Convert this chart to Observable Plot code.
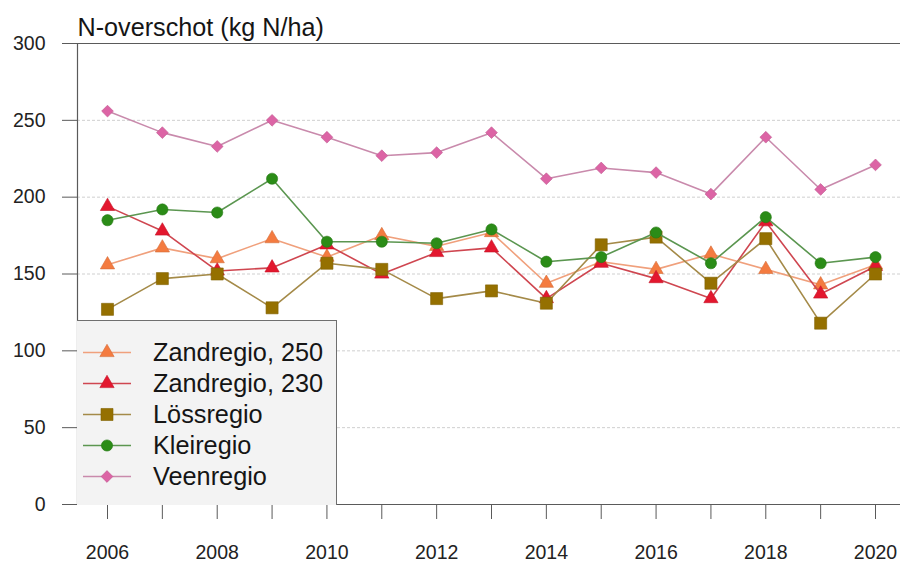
<!DOCTYPE html>
<html>
<head>
<meta charset="utf-8">
<script src="https://cdn.jsdelivr.net/npm/d3@7"></script>
<script src="https://cdn.jsdelivr.net/npm/@observablehq/plot@0.6"></script>
<style>
  html, body { margin: 0; padding: 0; background: #fff; }
  #wrap { position: relative; width: 900px; height: 563px; overflow: hidden; font-family: "Liberation Sans", Arial, Helvetica, sans-serif; }
  #legend { position: absolute; left: 77px; top: 320px; width: 259px; height: 168px; background: #f3f3f3; border-top: 1px solid #6f6f6f; border-right: 1px solid #6f6f6f; box-sizing: content-box; padding-top: 16px; }
  .row { position: relative; height: 31px; }
  .row svg { position: absolute; left: 0; top: 0; }
  .row span { position: absolute; left: 76px; top: 0; line-height: 31px; font-size: 25.3px; color: #151515; white-space: nowrap; }
</style>
</head>
<body>
<div id="wrap"><div id="legend"></div></div>
<script>
// ---- data ----
const years = [2006, 2007, 2008, 2009, 2010, 2011, 2012, 2013, 2014, 2015, 2016, 2017, 2018, 2019, 2020];
const seriesNames = ["Zandregio, 250", "Zandregio, 230", "Lössregio", "Kleiregio", "Veenregio"];
const zandregio250 = [156, 167, 160, 173, 161, 175, 168, 177, 144, 158, 153, 163, 153, 143, 156];
const zandregio230 = [194, 178, 152, 154, 169, 150, 164, 167, 134, 157, 147, 134, 184, 137, 155];
const lossregio    = [127, 147, 150, 128, 157, 153, 134, 139, 131, 169, 174, 144, 173, 118, 150];
const kleiregio    = [185, 192, 190, 212, 171, 171, 170, 179, 158, 161, 177, 157, 187, 157, 161];
const veenregio    = [256, 242, 233, 250, 239, 227, 229, 242, 212, 219, 216, 202, 239, 205, 221];
const yTicks = [0, 50, 100, 150, 200, 250, 300];
const title = "N-overschot (kg N/ha)";

// ---- styles (kept separate from data) ----
const valuesByName = {
  "Zandregio, 250": zandregio250,
  "Zandregio, 230": zandregio230,
  "Lössregio": lossregio,
  "Kleiregio": kleiregio,
  "Veenregio": veenregio
};
const style = {
  "Zandregio, 250": {fill: "#f47b40", line: "#f0a07c", symbol: "triangle", r: 5.3, d3sym: d3.symbolTriangle},
  "Zandregio, 230": {fill: "#e3172e", line: "#cf4650", symbol: "triangle", r: 5.3, d3sym: d3.symbolTriangle},
  "Lössregio":      {fill: "#957000", line: "#a48a48", symbol: "square",   r: 6.8, d3sym: d3.symbolSquare},
  "Kleiregio":      {fill: "#2b8c17", line: "#5b9650", symbol: "circle",   r: 5.6, d3sym: d3.symbolCircle},
  "Veenregio":      {fill: "#dc64a5", line: "#c98aac", symbol: "diamond2", r: 5.3, d3sym: d3.symbolDiamond2}
};

const rows = seriesNames.flatMap(name => years.map((year, i) => ({name, year, value: valuesByName[name][i]})));

const marks = [
  Plot.ruleY(yTicks.filter(t => t > 0 && t < 300), {stroke: "#cfcfcf", strokeDasharray: "3,2", strokeWidth: 1}),
  Plot.ruleY([0, 300], {stroke: "#5a5a5a", strokeWidth: 1.2}),
  Plot.frame({anchor: "left", stroke: "#5a5a5a", strokeWidth: 1.2}),
  Plot.axisY({ticks: yTicks, tickSize: 15, tickPadding: 17, label: null, stroke: "#5a5a5a", fontSize: 19.5, fill: "#222"}),
  Plot.axisX({ticks: years, tickSize: 15, tickPadding: 26, label: null, stroke: "#5a5a5a", fontSize: 19.5, fill: "#222",
              tickFormat: d => (d % 2 === 0 ? String(d) : "")})
];
for (const name of seriesNames) {
  const s = style[name];
  const sub = rows.filter(d => d.name === name);
  marks.push(Plot.line(sub, {x: "year", y: "value", stroke: s.line, strokeWidth: 1.6}));
  marks.push(Plot.dot(sub, {x: "year", y: "value", symbol: () => s.symbol, r: s.r, fill: s.fill, stroke: d3.color(s.fill).darker(0.4).formatHex(), strokeWidth: 0.6}));
}
marks.push(Plot.text([title], {frameAnchor: "top-left", dy: -8, textAnchor: "start", lineAnchor: "bottom", fontSize: 25.2, fill: "#151515"}));

const chart = Plot.plot({
  width: 900,
  height: 563,
  marginLeft: 77,
  marginTop: 43,
  marginBottom: 59,
  marginRight: 0,
  x: {domain: [2006, 2020], insetLeft: 30, insetRight: 25},
  y: {domain: [0, 300]},
  symbol: {type: "identity"},
  style: {fontFamily: "'Liberation Sans', Arial, Helvetica, sans-serif", background: "transparent", overflow: "visible"},
  marks
});
chart.style.position = "absolute";
chart.style.left = "0";
chart.style.top = "0";
const wrap = document.getElementById("wrap");
wrap.insertBefore(chart, wrap.firstChild);

// ---- legend (built from the series list) ----
const legend = d3.select("#legend");
for (const name of seriesNames) {
  const s = style[name];
  const row = legend.append("div").attr("class", "row");
  const svg = row.append("svg").attr("width", 60).attr("height", 31);
  svg.append("line").attr("x1", 6).attr("x2", 54).attr("y1", 15.5).attr("y2", 15.5)
     .attr("stroke", s.line).attr("stroke-width", 1.6);
  svg.append("path").attr("transform", "translate(30,15.5)")
     .attr("d", d3.symbol().type(s.d3sym).size(Math.PI * s.r * s.r)())
     .attr("fill", s.fill).attr("stroke", d3.color(s.fill).darker(0.4).formatHex()).attr("stroke-width", 0.6);
  row.append("span").text(name);
}
</script>
</body>
</html>
